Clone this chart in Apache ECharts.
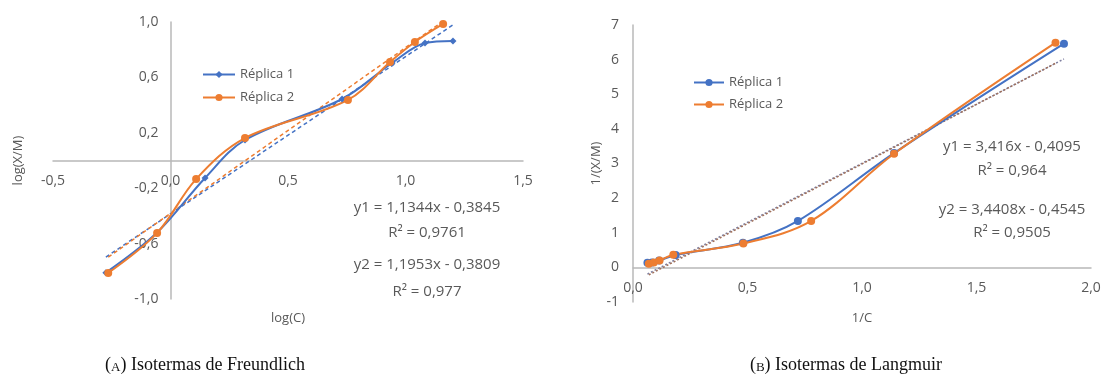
<!DOCTYPE html>
<html>
<head>
<meta charset="utf-8">
<script src="https://cdn.jsdelivr.net/npm/echarts@6/dist/echarts.min.js"></script>
<style>
  html, body { margin: 0; padding: 0; background: #fff; }
  #chart { width: 1102px; height: 385px; }
</style>
</head>
<body>
<div id="chart"></div>
<script>
// Freundlich: log(C) vs log(X/M)
const freundlichRep1 = [[-0.275, -0.81], [-0.057, -0.52], [0.147, -0.126], [0.317, 0.148], [0.730, 0.444], [0.943, 0.704], [1.083, 0.848], [1.202, 0.863]];
const freundlichRep2 = [[-0.265, -0.812], [-0.057, -0.523], [0.109, -0.134], [0.317, 0.162], [0.755, 0.437], [0.934, 0.711], [1.040, 0.856], [1.160, 0.986]];
const freundlichTrend1 = [[-0.275, -0.697], [1.202, 0.979]];
const freundlichTrend2 = [[-0.265, -0.698], [1.160, 1.006]];

// Langmuir: 1/C vs 1/(X/M)
const langmuirRep1 = [[0.063, 0.137], [0.083, 0.142], [0.114, 0.198], [0.186, 0.36], [0.480, 0.71], [0.720, 1.34], [1.140, 3.30], [1.882, 6.46]];
const langmuirRep2 = [[0.069, 0.103], [0.091, 0.139], [0.116, 0.195], [0.176, 0.366], [0.482, 0.689], [0.778, 1.34], [1.140, 3.28], [1.845, 6.49]];
const langmuirTrend1 = [[0.063, -0.194], [1.882, 6.019]];
const langmuirTrend2 = [[0.069, -0.217], [1.845, 5.894]];

const seriesLabels = { L1: 'Réplica 1', L2: 'Réplica 2', R1: 'Réplica 1', R2: 'Réplica 2' };
const freundlichEq = ['y1 = 1,1344x - 0,3845', 'R² = 0,9761', 'y2 = 1,1953x - 0,3809', 'R² = 0,977'];
const langmuirEq = ['y1 = 3,416x - 0,4095', 'R² = 0,964', 'y2 = 3,4408x - 0,4545', 'R² = 0,9505'];
const captions = [['A', 'Isotermas de Freundlich'], ['B', 'Isotermas de Langmuir']];

const BLUE = '#4472C4';
const ORANGE = '#ED7D31';
const GREY = '#595959';
const FONT = 'Open Sans';

const comma1 = v => v.toFixed(1).replace('.', ',');

function axisBase(extra) {
    return Object.assign({
        type: 'value',
        splitLine: { show: false },
        axisTick: { show: false },
        axisLine: { onZero: false, lineStyle: { color: '#b8b8b8', width: 1.5 } },
        nameTextStyle: { color: GREY, fontSize: 13, fontFamily: FONT },
        nameLocation: 'middle'
    }, extra);
}

function labelStyle(margin, formatter) {
    return { color: GREY, fontSize: 14, fontFamily: FONT, margin: margin, formatter: formatter };
}

function dataLine(id, data, color, symbol, size, xi) {
    return {
        name: id, type: 'line', xAxisIndex: xi, yAxisIndex: xi,
        data: data, smooth: 0.35, symbol: symbol, symbolSize: size,
        color: color, lineStyle: { width: 2, color: color },
        itemStyle: { color: color }, z: 3
    };
}

function trendLine(data, color, type, xi) {
    return {
        type: 'line', xAxisIndex: xi, yAxisIndex: xi, data: data,
        symbol: 'none', silent: true, z: 2,
        lineStyle: { width: 1.5, color: color, type: type }
    };
}

function eqTexts(lines, cx, ys) {
    return lines.map((t, i) => ({
        type: 'text', x: cx, y: ys[i],
        style: { text: t, fill: GREY, fontSize: 15, fontFamily: FONT, align: 'center', verticalAlign: 'middle' }
    }));
}

function caption(c, cx) {
    return {
        type: 'text', x: cx, y: 365,
        style: {
            text: '(' + '{sc|' + c[0] + '}' + ') ' + c[1],
            fill: '#111', fontSize: 18, fontFamily: 'Liberation Serif',
            align: 'center', verticalAlign: 'middle',
            rich: { sc: { fontSize: 13, fontFamily: 'Liberation Serif', fill: '#111', verticalAlign: 'bottom' } }
        }
    };
}

const legendText = { color: GREY, fontSize: 13, fontFamily: FONT };

const chart = echarts.init(document.getElementById('chart'));
chart.setOption({
    animation: false,
    grid: [
        { left: 53, right: 579, top: 22, bottom: 86, containLabel: false, outerBoundsMode: 'none' },
        { left: 633, right: 11, top: 25, bottom: 83, containLabel: false, outerBoundsMode: 'none' }
    ],
    xAxis: [
        // axis sits at y = 0, the middle of the grid
        axisBase({ gridIndex: 0, min: -0.5, max: 1.5, interval: 0.5, offset: -138.5,
            name: 'log(C)', nameGap: 151, axisLabel: labelStyle(14, comma1) }),
        axisBase({ gridIndex: 1, min: 0, max: 2, interval: 0.5, offset: -34.6,
            name: '1/C', nameGap: 44, axisLabel: labelStyle(14, comma1) })
    ],
    yAxis: [
        // axis sits at x = 0
        axisBase({ gridIndex: 0, min: -1.0, max: 1.0, interval: 0.4, offset: -117.5,
            name: 'log(X/M)', nameGap: 146, nameRotate: 90, axisLabel: labelStyle(12, comma1) }),
        axisBase({ gridIndex: 1, min: -1, max: 7, interval: 1,
            name: '1/(X/M)', nameGap: 30, nameRotate: 90, axisLabel: labelStyle(14) })
    ],
    legend: [
        { data: ['L1', 'L2'], orient: 'vertical', left: 197, top: 63, itemWidth: 32, itemHeight: 9, itemGap: 10,
          formatter: n => seriesLabels[n], textStyle: legendText },
        { data: ['R1', 'R2'], orient: 'vertical', left: 688, top: 71, itemWidth: 30, itemHeight: 9, itemGap: 9,
          formatter: n => seriesLabels[n], textStyle: legendText }
    ],
    series: [
        trendLine(freundlichTrend1, BLUE, [4, 3], 0),
        trendLine(freundlichTrend2, ORANGE, [4, 3], 0),
        dataLine('L1', freundlichRep1, BLUE, 'diamond', 7, 0),
        dataLine('L2', freundlichRep2, ORANGE, 'circle', 8, 0),
        trendLine(langmuirTrend1, '#7f7f9f', [2, 2], 1),
        trendLine(langmuirTrend2, '#a0705a', [2, 2], 1),
        dataLine('R1', langmuirRep1, BLUE, 'circle', 8, 1),
        dataLine('R2', langmuirRep2, ORANGE, 'circle', 8, 1)
    ],
    graphic: [].concat(
        eqTexts(freundlichEq, 427, [208, 233, 265, 292]),
        eqTexts(langmuirEq, 1012, [147, 171, 210, 233]),
        [caption(captions[0], 205), caption(captions[1], 846)]
    )
});
</script>
</body>
</html>
